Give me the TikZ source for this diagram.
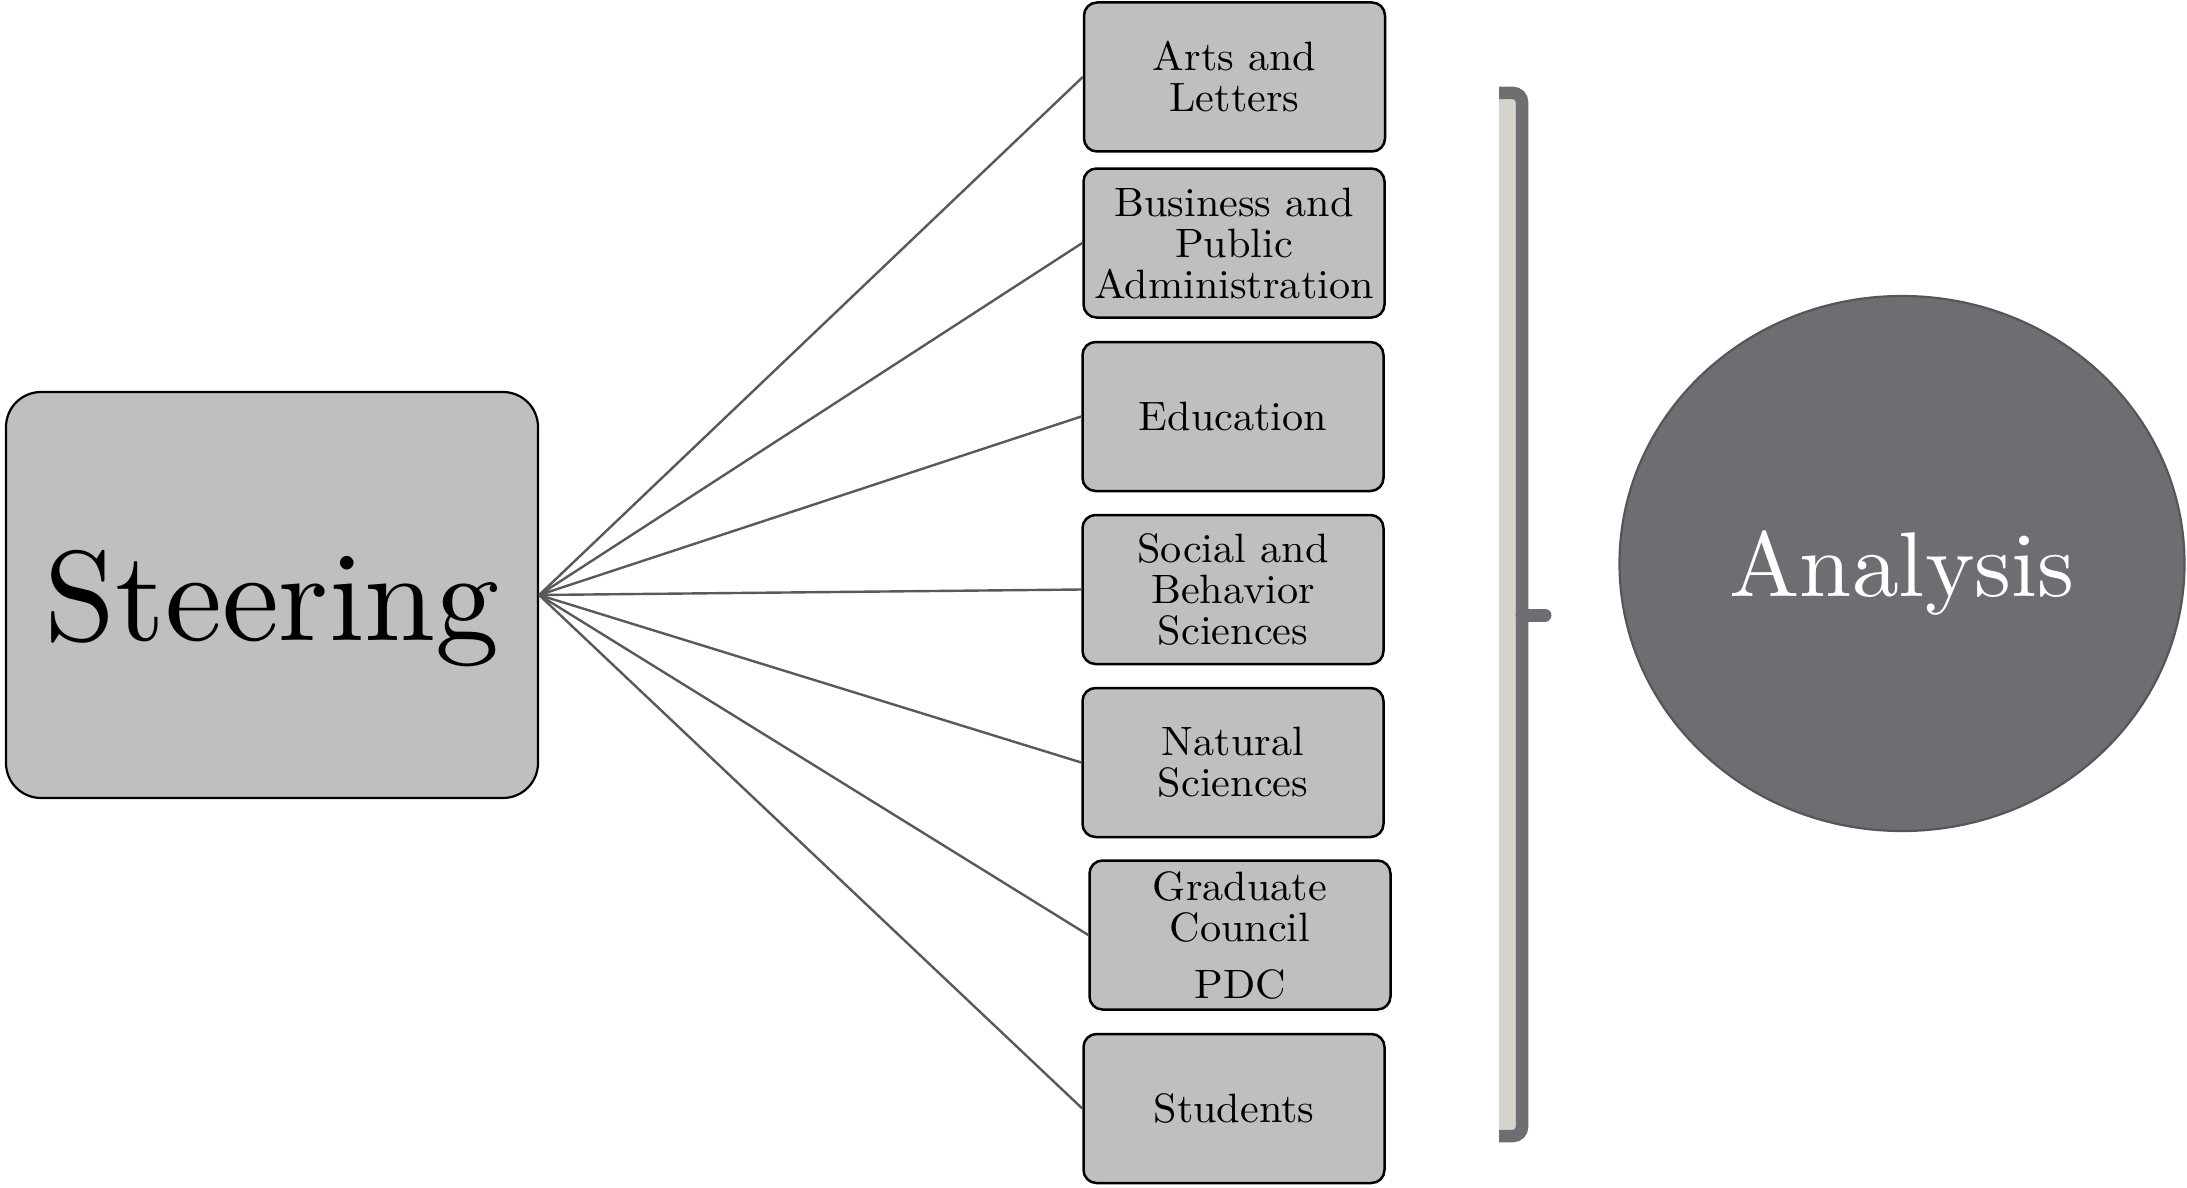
\documentclass[tikz,border=0pt]{standalone}
\usepackage{fontspec}
\newfontfamily\steerfont{lmroman10-regular.otf}
\newfontfamily\unitfont{lmroman10-regular.otf}[FakeStretch=1.03]
\newfontfamily\anafont{lmroman10-regular.otf}[FakeStretch=1.02]
\usetikzlibrary{shapes.geometric}
\definecolor{boxfill}{HTML}{BFBFBF}
\definecolor{linegray}{HTML}{595959}
\definecolor{ellfill}{HTML}{6E6D72}
\definecolor{ellline}{HTML}{56555A}
\definecolor{brlight}{HTML}{D6D3CD}
\definecolor{brdark}{HTML}{6E6D72}
\begin{document}
\begin{tikzpicture}[x=1pt,y=-1pt,
  mainbox/.style={draw=black, line width=2.2pt, fill=boxfill, rounded corners=35pt,
    minimum width=532pt, minimum height=406pt, inner sep=0pt, text depth=0pt,
    font=\steerfont\fontsize{128}{140}\selectfont},
  unitbox/.style={draw=black, line width=2.5pt, fill=boxfill, rounded corners=13pt,
    minimum width=301pt, minimum height=149pt, inner sep=0pt, align=center,
    font=\unitfont\fontsize{41}{41}\selectfont},
  conn/.style={draw=linegray, line width=2.4pt},
  anabox/.style={ellipse, draw=ellline, line width=2.2pt, fill=ellfill, text=white,
    minimum width=565pt, minimum height=535pt, inner sep=0pt, text depth=0pt,
    font=\anafont\fontsize{92}{100}\selectfont}
]
\useasboundingbox (0,0) rectangle (2187,1188);

\node[mainbox] (steer) at (272,595) {Steering};

\node[unitbox] (arts) at (1234.5,77) {Arts and\\Letters};
\node[unitbox] (bus) at (1234,243) {Business and\\Public\\Administration};
\node[unitbox] (edu) at (1233,416.5) {Education};
\node[unitbox] (soc) at (1233,589.5) {Social and\\Behavior\\Sciences};
\node[unitbox] (nat) at (1233,762.5) {Natural\\Sciences};
\node[unitbox] (grad) at (1240,935) {Graduate\\Council\\[16pt]PDC};
\node[unitbox] (stu) at (1234,1108.5) {Students};

\foreach \t in {arts,bus,edu,soc,nat,grad,stu}
  \draw[conn] (steer.east) -- (\t.west);

% bracket
\fill[brlight] (1499,99) rectangle (1516,1130);
\draw[brdark, line width=12.5pt, rounded corners=9pt] (1499,93) -- (1522,93) -- (1522,1136) -- (1499,1136);
\draw[brdark, line width=13pt, line cap=round] (1522,615) -- (1545,615);

\node[anabox] (ana) at (1902,563.5) {Analysis};
\end{tikzpicture}
\end{document}
